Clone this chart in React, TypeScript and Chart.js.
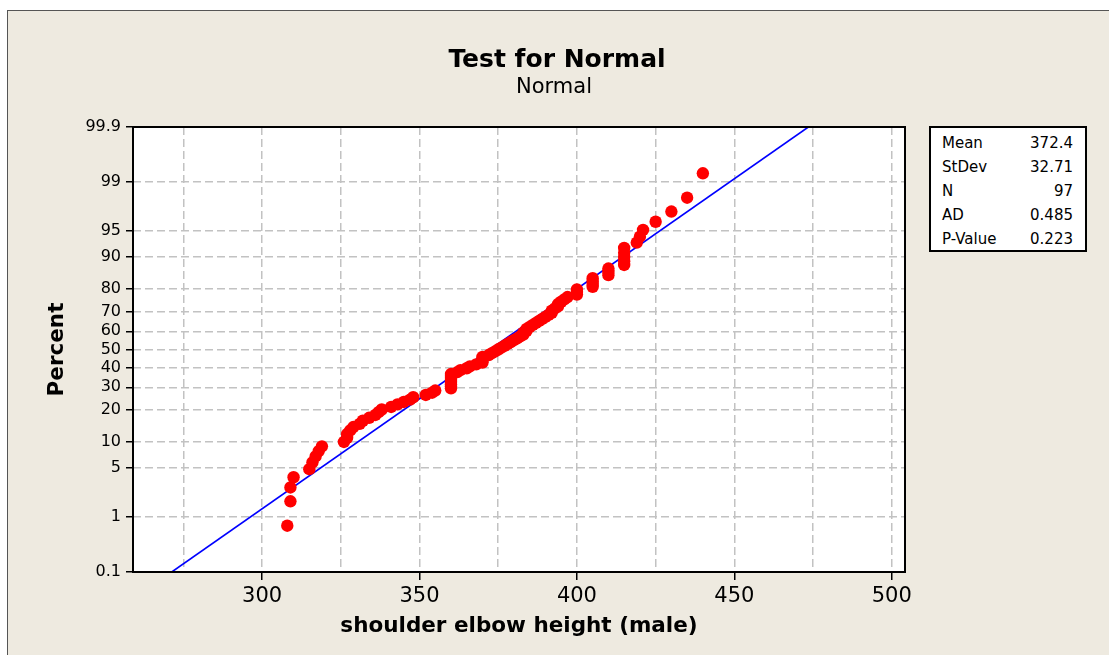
import React, { useEffect, useRef } from "react";
import { Chart, registerables, LinearScale } from "chart.js";

Chart.register(...registerables);

// ---- data ----
const HEIGHTS = [
  308, 309, 309, 310,
  315, 316, 317, 318, 319,
  326, 327, 327, 328, 329, 331, 332, 334, 336, 337, 338,
  341, 343, 345, 347, 348, 352, 354, 355,
  360, 360, 360, 360, 360, 360, 360, 360,
  362, 363, 365, 366, 368,
  370, 370, 370, 370,
  372, 373, 374, 375, 376, 377, 378, 379, 380, 381, 382, 383,
  383, 384, 384, 385, 386, 387, 388, 389, 390, 391, 392, 392, 393, 394, 394, 395, 396, 397,
  400, 400, 400,
  405, 405, 405, 405,
  410, 410, 410,
  415, 415, 415, 415, 415,
  419, 420, 421, 425, 430, 435, 440,
];
const PERCENTS = [
  0.72, 1.75, 2.77, 3.8, 4.83, 5.85, 6.88, 7.91, 8.93, 9.96,
  10.99, 12.01, 13.04, 14.07, 15.09, 16.12, 17.15, 18.17, 19.2, 20.23,
  21.25, 22.28, 23.31, 24.33, 25.36, 26.39, 27.41, 28.44, 29.47, 30.49,
  31.52, 32.55, 33.57, 34.6, 35.63, 36.65, 37.68, 38.71, 39.73, 40.76,
  41.79, 42.81, 43.84, 44.87, 45.89, 46.92, 47.95, 48.97, 50.0, 51.03,
  52.05, 53.08, 54.11, 55.13, 56.16, 57.19, 58.21, 59.24, 60.27, 61.29,
  62.32, 63.35, 64.37, 65.4, 66.43, 67.45, 68.48, 69.51, 70.53, 71.56,
  72.59, 73.61, 74.64, 75.67, 76.69, 77.72, 78.75, 79.77, 80.8, 81.83,
  82.85, 83.88, 84.91, 85.93, 86.96, 87.99, 89.01, 90.04, 91.07, 92.09,
  93.12, 94.15, 95.17, 96.2, 97.23, 98.25, 99.28,
];
const FIT_X = [271.3, 473.5];
const FIT_P = [0.1, 99.9];
const Y_TICKS = [0.1, 1, 5, 10, 20, 30, 40, 50, 60, 70, 80, 90, 95, 99, 99.9];
const X_TICKS = [275, 300, 325, 350, 375, 400, 425, 450, 475, 500];
const X_LABELS = [300, 350, 400, 450, 500];
const STAT_NAMES = ["Mean", "StDev", "N", "AD", "P-Value"];
const STAT_VALUES = ["372.4", "32.71", "97", "0.485", "0.223"];
const TITLE = "Test for Normal";
const SUBTITLE = "Normal";
const X_TITLE = "shoulder elbow height (male)";
const Y_TITLE = "Percent";

const FONT = "'DejaVu Sans', Verdana, sans-serif";
const GRID = "#c2c2c2";

// inverse standard normal CDF (Acklam), input in percent
function probit(pct: number): number {
  const p = pct / 100;
  const a = [-3.969683028665376e1, 2.209460984245205e2, -2.759285104469687e2, 1.38357751867269e2, -3.066479806614716e1, 2.506628277459239];
  const b = [-5.447609879822406e1, 1.615858368580409e2, -1.556989798598866e2, 6.680131188771972e1, -1.328068155288572e1];
  const c = [-7.784894002430293e-3, -3.223964580411365e-1, -2.400758277161838, -2.549732539343734, 4.374664141464968, 2.938163982698783];
  const d = [7.784695709041462e-3, 3.224671290700398e-1, 2.445134137142996, 3.754408661907416];
  const plow = 0.02425;
  if (p < plow) {
    const q = Math.sqrt(-2 * Math.log(p));
    return (((((c[0] * q + c[1]) * q + c[2]) * q + c[3]) * q + c[4]) * q + c[5]) / ((((d[0] * q + d[1]) * q + d[2]) * q + d[3]) * q + 1);
  }
  if (p > 1 - plow) {
    const q = Math.sqrt(-2 * Math.log(1 - p));
    return -(((((c[0] * q + c[1]) * q + c[2]) * q + c[3]) * q + c[4]) * q + c[5]) / ((((d[0] * q + d[1]) * q + d[2]) * q + d[3]) * q + 1);
  }
  const q = p - 0.5;
  const r = q * q;
  return ((((((a[0] * r + a[1]) * r + a[2]) * r + a[3]) * r + a[4]) * r + a[5]) * q) / (((((b[0] * r + b[1]) * r + b[2]) * r + b[3]) * r + b[4]) * r + 1);
}

function normCdf(z: number): number {
  const t = 1 / (1 + 0.3275911 * Math.abs(z) / Math.SQRT2);
  const y = 1 - (((((1.061405429 * t - 1.453152027) * t + 1.421413741) * t - 0.284496736) * t + 0.254829592) * t) * Math.exp(-(z * z) / 2);
  return z >= 0 ? (1 + y) / 2 : (1 - y) / 2;
}

// normal probability scale
class ProbitScale extends (LinearScale as any) {
  static id = "probit";
  static defaults = {};
  determineDataLimits() {
    const o: any = (this as any).options;
    (this as any).min = o.min;
    (this as any).max = o.max;
  }
  buildTicks() {
    return Y_TICKS.map((v) => ({ value: v }));
  }
  configure() {
    super.configure();
    (this as any)._zs = probit((this as any).min);
    (this as any)._ze = probit((this as any).max);
  }
  getPixelForValue(v: number) {
    if (v === null || v === undefined) return NaN;
    const s = this as any;
    return s.getPixelForDecimal((probit(v) - s._zs) / (s._ze - s._zs));
  }
  getValueForPixel(px: number) {
    const s = this as any;
    const dec = s.getDecimalForPixel(px);
    return normCdf(s._zs + dec * (s._ze - s._zs)) * 100;
  }
}
Chart.register(ProbitScale as any);

const framePlugin = {
  id: "frame",
  beforeDraw(chart: any) {
    const { ctx, chartArea: a } = chart;
    ctx.save();
    ctx.fillStyle = "#ffffff";
    ctx.fillRect(a.left, a.top, a.right - a.left, a.bottom - a.top);
    ctx.restore();
  },
  afterDatasetsDraw(chart: any) {
    const { ctx, chartArea: a } = chart;
    ctx.save();
    ctx.strokeStyle = "#000000";
    ctx.lineWidth = 2;
    ctx.strokeRect(a.left, a.top, a.right - a.left, a.bottom - a.top);
    ctx.restore();
  },
};

export default function App() {
  const ref = useRef<HTMLCanvasElement | null>(null);

  useEffect(() => {
    if (!ref.current) return;
    const points = HEIGHTS.map((x, i) => ({ x, y: PERCENTS[i] }));
    const fit = FIT_X.map((x, i) => ({ x, y: FIT_P[i] }));
    const chart = new Chart(ref.current, {
      type: "scatter",
      data: {
        datasets: [
          {
            type: "scatter",
            data: points,
            backgroundColor: "#ff0000",
            borderWidth: 0,
            pointRadius: 6.2,
            pointHoverRadius: 6.2,
          },
          {
            type: "line",
            data: fit,
            borderColor: "#0000ff",
            borderWidth: 1.6,
            pointRadius: 0,
            fill: false,
          },
        ],
      } as any,
      options: {
        animation: false,
        responsive: false,
        devicePixelRatio: 1,
        layout: { padding: { left: 0, top: 127, right: 204, bottom: 0 } },
        plugins: {
          legend: { display: false },
          tooltip: { enabled: false },
        },
        scales: {
          x: {
            type: "linear",
            min: 259,
            max: 504.2,
            afterBuildTicks: (s: any) => {
              s.ticks = X_TICKS.map((v) => ({ value: v }));
            },
            afterFit: (s: any) => {
              s.height = 83;
            },
            grid: {
              color: GRID,
              lineWidth: 1.5,
              tickLength: 8,
              tickWidth: 1.5,
              tickColor: (c: any) => (c.tick && X_LABELS.includes(c.tick.value) ? "#000000" : "rgba(0,0,0,0)"),
            },
            border: { display: false, dash: [8, 4] },
            ticks: {
              autoSkip: false,
              maxRotation: 0,
              padding: 4,
              color: "#000000",
              font: { family: FONT, size: 21 },
              callback: (v: any) => (X_LABELS.includes(Number(v)) ? String(v) : ""),
            },
            title: {
              display: true,
              text: X_TITLE,
              color: "#000000",
              font: { family: FONT, size: 21.5, weight: "bold" },
              padding: { top: 0, bottom: 16 },
            },
          },
          y: {
            type: "probit" as any,
            min: 0.1,
            max: 99.9,
            afterFit: (s: any) => {
              s.width = 133;
            },
            grid: {
              color: GRID,
              lineWidth: 1.5,
              tickLength: 7,
              tickWidth: 1.5,
              tickColor: "#000000",
            },
            border: { display: false, dash: [8, 4] },
            ticks: {
              autoSkip: false,
              padding: 5,
              color: "#000000",
              font: { family: FONT, size: 16 },
              callback: (v: any) => String(v),
            },
            title: {
              display: true,
              text: Y_TITLE,
              color: "#000000",
              font: { family: FONT, size: 21.5, weight: "bold" },
              padding: { top: 45, bottom: 0 },
            },
          },
        } as any,
      },
      plugins: [framePlugin],
    });
    return () => chart.destroy();
  }, []);

  return (
    <div
      style={{
        position: "fixed",
        left: 0,
        top: 0,
        width: 1109,
        height: 655,
        background: "#ffffff",
        overflow: "hidden",
        fontFamily: FONT,
        color: "#000",
      }}
    >
      <div
        style={{
          position: "absolute",
          left: 7,
          top: 10,
          width: 1200,
          height: 800,
          background: "#eeeae0",
          borderLeft: "1px solid #555",
          borderTop: "1px solid #555",
        }}
      />
      <canvas
        ref={ref}
        width={1109}
        height={655}
        style={{ position: "absolute", left: 0, top: 0, width: 1109, height: 655 }}
      />
      <div
        style={{
          position: "absolute",
          left: 557,
          top: 45.5,
          transform: "translateX(-50%)",
          whiteSpace: "nowrap",
          fontSize: 25,
          lineHeight: "25px",
          fontWeight: "bold",
        }}
      >
        {TITLE}
      </div>
      <div
        style={{
          position: "absolute",
          left: 554,
          top: 75.5,
          transform: "translateX(-50%)",
          whiteSpace: "nowrap",
          fontSize: 21,
          lineHeight: "21px",
        }}
      >
        {SUBTITLE}
      </div>
      <div
        style={{
          position: "absolute",
          left: 929,
          top: 126,
          width: 158,
          height: 126,
          boxSizing: "border-box",
          border: "2px solid #000",
          background: "#ffffff",
          paddingTop: 3,
          paddingLeft: 11,
          paddingRight: 12,
          fontSize: 15,
        }}
      >
        {STAT_NAMES.map((n, i) => (
          <div
            key={n}
            style={{ display: "flex", justifyContent: "space-between", lineHeight: "24px", height: 24 }}
          >
            <span>{n}</span>
            <span>{STAT_VALUES[i]}</span>
          </div>
        ))}
      </div>
    </div>
  );
}
